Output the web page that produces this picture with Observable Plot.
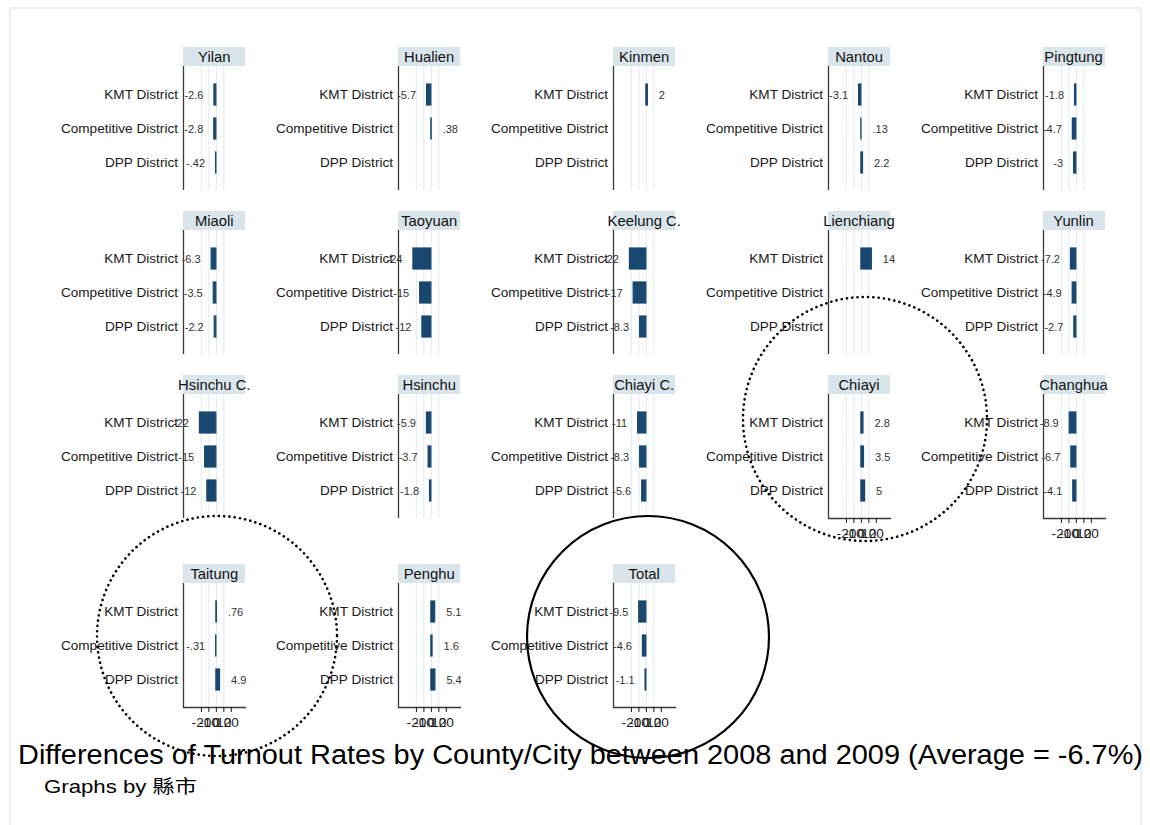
<!DOCTYPE html>
<html>
<head>
<meta charset="utf-8">
<script src="https://cdn.jsdelivr.net/npm/d3@7"></script>
<script src="https://cdn.jsdelivr.net/npm/@observablehq/plot@0.6"></script>
<style>
  html, body { margin: 0; padding: 0; background: #fff; }
  #root { position: relative; width: 1150px; height: 825px; overflow: hidden; font-family: "Liberation Sans", Arial, sans-serif; }
  .panel { position: absolute; }
  .strip { position: absolute; height: 19px; background: #d9e5eb; }
  .strip span { position: absolute; left: 50%; top: 50%; transform: translate(-50%, -52%); white-space: nowrap; font-size: 14.8px; color: #111; }
  .panel svg { display: block; background: transparent !important; overflow: visible; max-width: none !important; }
  svg.overlay { position: absolute; left: 0; top: 0; pointer-events: none; }
</style>
</head>
<body>
<div id="root"></div>
<script>
// ---- data ----
const counties = ["Yilan", "Hualien", "Kinmen", "Nantou", "Pingtung",
                  "Miaoli", "Taoyuan", "Keelung C.", "Lienchiang", "Yunlin",
                  "Hsinchu C.", "Hsinchu", "Chiayi C.", "Chiayi", "Changhua",
                  "Taitung", "Penghu", "Total"];
const districtTypes = ["KMT District", "Competitive District", "DPP District"];
const kmtValues         = [-2.6, -5.7, 2, -3.1, -1.8,  -6.3, -24, -22, 14, -7.2,  -22, -5.9, -11, 2.8, -8.9,  0.76, 5.1, -9.5];
const competitiveValues = [-2.8, 0.38, null, 0.13, -4.7,  -3.5, -15, -17, null, -4.9,  -15, -3.7, -8.3, 3.5, -6.7,  -0.31, 1.6, -4.6];
const dppValues         = [-0.42, null, null, 2.2, -3,  -2.2, -12, -8.3, null, -2.7,  -12, -1.8, -5.6, 5, -4.1,  4.9, 5.4, -1.1];
const xTickValues = [-20, -10, 0, 10, 20];
const gridValues = [-20, -10, 0, 10];
const xDomain = [-44, 39];
const titleText = "Differences of Turnout Rates by County/City between 2008 and 2009 (Average = -6.7%)";
const captionText = "Graphs by 縣市";

// ---- layout ----
const colX = [183.3, 398.2, 613.2, 828, 1042.5];
const rowTop = [47, 211, 375, 564];
const stripH = 19, plotW = 62, plotH = 124, axisH = 34;
const ML = 150, MR = 40;
const barColor = "#1a476f";
const withAxis = new Set(["Chiayi", "Changhua", "Taitung", "Penghu", "Total"]);

// Stata-like %9.2g labels: hyphen minus, no leading zero
const fmt = v => d3.format(".2~g")(v).replace(/\u2212/g, "-").replace(/^(-?)0\./, "$1.");
const root = document.getElementById("root");

counties.forEach((name, i) => {
  const col = i % 5, row = Math.floor(i / 5);
  const series = [kmtValues, competitiveValues, dppValues];
  const rows = districtTypes.map((t, j) => ({type: t, value: series[j][i]})).filter(d => d.value != null);
  const hasAxis = withAxis.has(name);
  const W = ML + plotW + MR, H = plotH + (hasAxis ? axisH : 0);

  const div = document.createElement("div");
  div.className = "panel";
  div.style.left = (colX[col] - ML) + "px";
  div.style.top = rowTop[row] + "px";
  div.style.width = W + "px";
  div.style.height = (H + stripH) + "px";

  const marks = [
    Plot.ruleX(gridValues, {stroke: "#e4eef2", strokeWidth: 1.2}),
    Plot.barX(rows, {x: "value", y: "type", fill: barColor, stroke: barColor, strokeWidth: 1.2}),
    Plot.text(rows.filter(d => d.value >= 0), {x: "value", y: "type", text: d => fmt(d.value), dx: 11, textAnchor: "start", fontSize: 11, fill: "#333"}),
    Plot.text(rows.filter(d => d.value < 0), {x: "value", y: "type", text: d => fmt(d.value), dx: -11, textAnchor: "end", fontSize: 11, fill: "#333"}),
    Plot.axisY({tickSize: 0, tickPadding: 5.5, fontSize: 13.6, label: null, color: "#1a1a1a"}),
    Plot.ruleX([xDomain[0]], {stroke: "#3a3a3a", strokeWidth: 1.3, y1: null, y2: null})
  ];
  if (hasAxis) {
    marks.push(Plot.frame({anchor: "bottom", stroke: "#3a3a3a", strokeWidth: 1.3}));
    marks.push(Plot.axisX(xTickValues, {tickSize: 5, tickPadding: 5, fontSize: 13.6, label: null, tickFormat: d => String(d), color: "#1a1a1a"}));
  }

  const svg = Plot.plot({
    width: W,
    height: H,
    marginLeft: ML, marginRight: MR, marginTop: 0, marginBottom: hasAxis ? axisH : 0,
    style: {background: "transparent", fontFamily: "Liberation Sans, Arial, sans-serif", overflow: "visible", maxWidth: "none"},
    x: {domain: xDomain, axis: null},
    y: {domain: districtTypes, paddingInner: 0.37, paddingOuter: 0.47, insetTop: 2, axis: null},
    marks
  });
  svg.style.position = "absolute";
  svg.style.left = "0px";
  svg.style.top = stripH + "px";
  svg.style.maxWidth = "none";
  svg.setAttribute("width", W);
  svg.setAttribute("height", H);
  div.appendChild(svg);

  const strip = document.createElement("div");
  strip.className = "strip";
  strip.style.left = ML + "px";
  strip.style.width = plotW + "px";
  strip.innerHTML = `<span>${name}</span>`;
  div.appendChild(strip);

  root.appendChild(div);
});

// ---- frame, title, caption and hand-drawn highlight circles ----
const ov = d3.select(root).append("svg").attr("class", "overlay").attr("width", 1150).attr("height", 825);
ov.append("rect").attr("x", 10).attr("y", 8).attr("width", 1131).attr("height", 830)
  .attr("fill", "none").attr("stroke", "#e2eaee").attr("stroke-width", 1.5);
ov.append("text").attr("x", 18).attr("y", 764).attr("font-size", 27)
  .attr("font-family", "Liberation Sans, Arial, sans-serif").attr("fill", "#000")
  .attr("textLength", 1125).attr("lengthAdjust", "spacingAndGlyphs").text(titleText);
ov.append("text").attr("x", 44).attr("y", 793).attr("font-size", 18.5)
  .attr("font-family", "Liberation Sans, 'Noto Sans CJK TC', Arial, sans-serif").attr("fill", "#000")
  .attr("textLength", 153).attr("lengthAdjust", "spacingAndGlyphs").text(captionText);

const highlightCircles = [
  {cx: 865, cy: 419, r: 122, dotted: true},
  {cx: 217, cy: 636, r: 120, dotted: true},
  {cx: 648, cy: 637, r: 121, dotted: false}
];
highlightCircles.forEach(c => {
  const e = ov.append("circle").attr("cx", c.cx).attr("cy", c.cy).attr("r", c.r)
    .attr("fill", "none").attr("stroke", "#000");
  if (c.dotted) e.attr("stroke-width", 2.6).attr("stroke-dasharray", "0.1 5.2").attr("stroke-linecap", "round");
  else e.attr("stroke-width", 2.2);
});
</script>
</body>
</html>
